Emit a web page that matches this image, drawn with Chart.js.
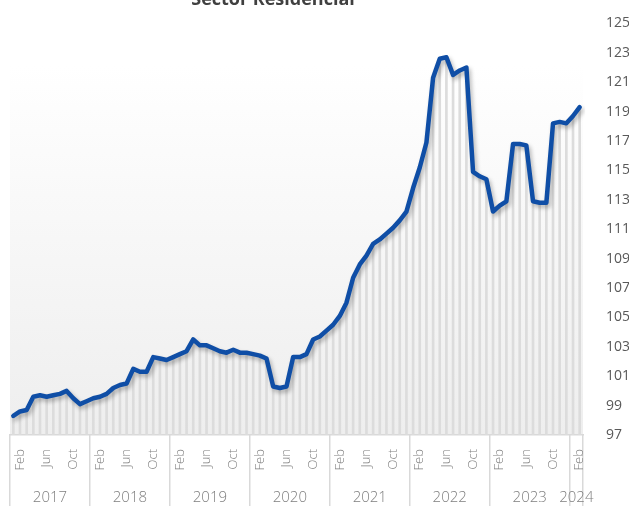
<!DOCTYPE html>
<html>
<head>
<meta charset="utf-8">
<script src="https://cdn.jsdelivr.net/npm/chart.js@4.4.1/dist/chart.umd.min.js"></script>
<style>
  html, body { margin: 0; padding: 0; background: #fff; overflow: hidden; }
  #wrap { position: relative; width: 629px; height: 506px; }
  #title {
    position: absolute; left: 0; top: -11px; width: 546px;
    text-align: center; font: bold 18px 'Open Sans', sans-serif;
    line-height: 18px; color: #404040;
  }
</style>
</head>
<body>
<div id="wrap">
  <canvas id="chart" width="629" height="506"></canvas>
  <div id="title">Sector Residencial</div>
</div>
<script>
const years = ['2017', '2018', '2019', '2020', '2021', '2022', '2023', '2024'];
const monthNames = ['Jan', 'Feb', 'Mar', 'Apr', 'May', 'Jun', 'Jul', 'Aug', 'Sep', 'Oct', 'Nov', 'Dec'];
const shownMonths = ['Feb', 'Jun', 'Oct'];

// month positions (0 = Jan 2017) used by the year rows
const yearCenters = [6, 18, 30, 42, 54, 66, 78, 85];
const yearEdges = [0, 12, 24, 36, 48, 60, 72, 84, 86];

const yTicks = [97, 99, 101, 103, 105, 107, 109, 111, 113, 115, 117, 119, 121, 123, 125];

// monthly index, Jan 2017 - Feb 2024
const indexValues = [
    98.3, 98.6, 98.7, 99.6, 99.7, 99.6, 99.7, 99.8, 100.0, 99.5, 99.1, 99.3,
    99.5, 99.6, 99.8, 100.2, 100.4, 100.5, 101.5, 101.3, 101.3, 102.3, 102.2, 102.1,
    102.3, 102.5, 102.7, 103.5, 103.1, 103.1, 102.9, 102.7, 102.6, 102.8, 102.6, 102.6,
    102.5, 102.4, 102.2, 100.3, 100.2, 100.3, 102.3, 102.3, 102.5, 103.5, 103.7, 104.1,
    104.5, 105.1, 106.0, 107.7, 108.6, 109.2, 110.0, 110.3, 110.7, 111.1, 111.6, 112.2,
    113.8, 115.2, 116.9, 121.3, 122.6, 122.7, 121.5, 121.8, 122.0, 114.9, 114.6, 114.4,
    112.2, 112.6, 112.9, 116.8, 116.8, 116.7, 112.9, 112.8, 112.8, 118.2, 118.3, 118.2,
    118.7, 119.3,
];

const categories = indexValues.map((v, i) => monthNames[i % 12]);

const plotBackground = {
    id: 'plotBackground',
    beforeDraw(chart) {
        const {ctx, chartArea: a} = chart;
        const g = ctx.createLinearGradient(0, a.top, 0, a.bottom);
        g.addColorStop(0, '#ffffff');
        g.addColorStop(0.1, '#ffffff');
        g.addColorStop(1, '#eeeeee');
        ctx.save();
        ctx.fillStyle = g;
        ctx.fillRect(a.left, a.top, a.right - a.left, a.bottom - a.top);
        ctx.restore();
    },
};

const lineShadow = {
    id: 'lineShadow',
    beforeDatasetDraw(chart, args) {
        if (args.meta.type !== 'line') return;
        const ctx = chart.ctx;
        ctx.save();
        ctx.shadowColor = 'rgba(0, 0, 0, 0.28)';
        ctx.shadowBlur = 4;
        ctx.shadowOffsetX = 2;
        ctx.shadowOffsetY = 3;
    },
    afterDatasetDraw(chart, args) {
        if (args.meta.type !== 'line') return;
        chart.ctx.restore();
    },
};

const axisGrey = '#7f7f7f';

new Chart(document.getElementById('chart'), {
    type: 'line',
    data: {
        labels: categories,
        datasets: [
            {
                type: 'line',
                data: indexValues,
                borderColor: '#0f4ea6',
                borderWidth: 4.5,
                borderJoinStyle: 'round',
                borderCapStyle: 'round',
                pointRadius: 0,
                tension: 0,
                order: 1,
            },
            {
                type: 'bar',
                data: indexValues,
                backgroundColor: '#dcdcdc',
                barThickness: 2,
                order: 2,
            },
        ],
    },
    options: {
        responsive: false,
        animation: false,
        layout: {
            padding: {left: 10, top: 16, right: 0, bottom: 0},
        },
        plugins: {
            legend: {display: false},
            tooltip: {enabled: false},
        },
        scales: {
            x: {
                type: 'category',
                position: 'bottom',
                weight: 0,
                offset: true,
                grid: {display: false},
                border: {display: true, color: '#d9d9d9', width: 1.5},
                ticks: {
                    autoSkip: false,
                    minRotation: 90,
                    maxRotation: 90,
                    padding: 6,
                    color: axisGrey,
                    font: {family: 'Open Sans', size: 13, weight: '300'},
                    callback(value) {
                        const m = this.getLabelForValue(value);
                        return shownMonths.includes(m) ? m : '';
                    },
                },
                afterFit(axis) {
                    axis.height = 44;
                },
            },
            xYear: {
                type: 'linear',
                position: 'bottom',
                weight: 1,
                min: 0,
                max: 86,
                afterBuildTicks(axis) {
                    axis.ticks = yearCenters.map(v => ({value: v}));
                },
                grid: {display: false},
                border: {display: false},
                ticks: {
                    autoSkip: false,
                    maxRotation: 0,
                    padding: 2,
                    color: axisGrey,
                    font: {family: 'Open Sans', size: 15, weight: '300'},
                    callback: (v, i) => years[i],
                },
                afterFit(axis) {
                    axis.height = 27;
                },
            },
            xSep: {
                type: 'linear',
                position: 'bottom',
                weight: 2,
                min: 0,
                max: 86,
                afterBuildTicks(axis) {
                    axis.ticks = yearEdges.map(v => ({value: v}));
                },
                grid: {
                    drawOnChartArea: false,
                    drawTicks: true,
                    tickLength: -72,
                    color: '#d9d9d9',
                    lineWidth: 1.5,
                },
                border: {display: false},
                ticks: {display: false},
                afterFit(axis) {
                    axis.height = 0;
                },
            },
            y: {
                position: 'right',
                min: 97,
                max: 125,
                afterBuildTicks(axis) {
                    axis.ticks = yTicks.map(v => ({value: v}));
                },
                grid: {display: false},
                border: {display: false},
                ticks: {
                    padding: 15,
                    color: '#595959',
                    font: {family: 'Open Sans', size: 14},
                },
                afterFit(axis) {
                    axis.width = 46;
                },
            },
        },
    },
    plugins: [plotBackground, lineShadow],
});
</script>
</body>
</html>
